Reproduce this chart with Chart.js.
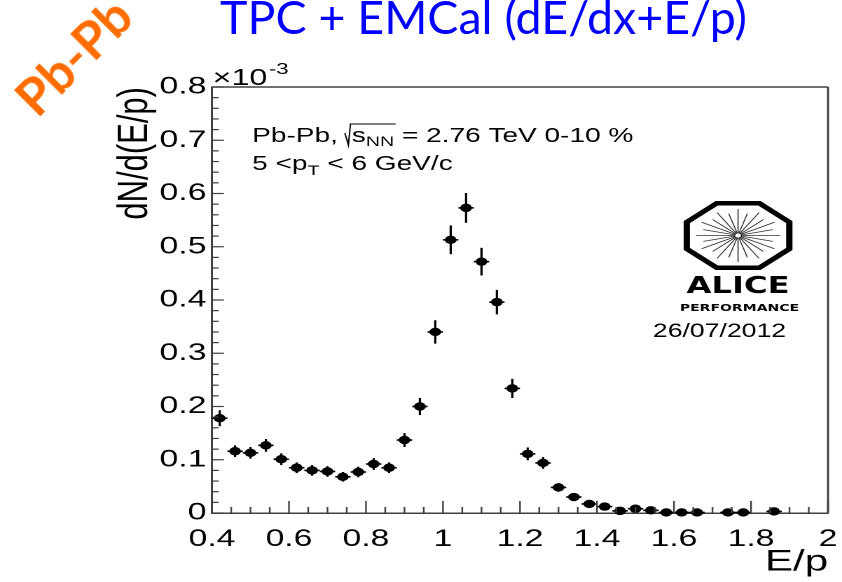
<!DOCTYPE html>
<html>
<head>
<meta charset="utf-8">
<script src="https://cdn.jsdelivr.net/npm/chart.js@4.4.1/dist/chart.umd.min.js"></script>
<style>
  body { margin: 0; background: #fff; }
  #wrap { position: relative; width: 842px; height: 582px; overflow: hidden; background: #fff; }
  #plot { position: absolute; left: 0; top: 0; }
  #slideTitle {
    position: absolute; left: 220px; top: -6px; white-space: nowrap;
    font-family: Lato, "Open Sans", sans-serif; font-size: 46px; line-height: 1;
    color: #0000ff; transform-origin: 0 0;
  }
  #system {
    position: absolute; left: 73px; top: 56px; white-space: nowrap;
    font-family: Lato, "Open Sans", sans-serif; font-weight: bold; font-size: 51px; line-height: 1;
    color: #ff6c00; transform: translate(-50%, -50%) rotate(-45deg);
  }
</style>
</head>
<body>
<div id="wrap">
  <!-- the ROOT picture in the slide is stretched sideways, so the canvas is drawn narrow and widened by CSS -->
  <canvas id="plot" width="601" height="582" style="width:842px;height:582px"></canvas>
  <div id="slideTitle">TPC + EMCal (dE/dx+E/p)</div>
  <div id="system">Pb-Pb</div>
</div>
<script>
// --- data (y in units of 1e-3) ---
const epCenters = [0.42, 0.46, 0.50, 0.54, 0.58, 0.62, 0.66, 0.70, 0.74, 0.78, 0.82, 0.86,
                   0.90, 0.94, 0.98, 1.02, 1.06, 1.10, 1.14, 1.18, 1.22, 1.26, 1.30, 1.34,
                   1.38, 1.42, 1.46, 1.50, 1.54, 1.58, 1.62, 1.66, 1.74, 1.78, 1.86];
const dNdEp = [0.178, 0.116, 0.113, 0.127, 0.101, 0.085, 0.080, 0.078, 0.068, 0.077, 0.092, 0.085,
               0.137, 0.200, 0.340, 0.513, 0.573, 0.472, 0.396, 0.234, 0.111, 0.094, 0.048, 0.030,
               0.017, 0.012, 0.004, 0.008, 0.005, 0.001, 0.001, 0.001, 0.001, 0.001, 0.003];
const dNdEpErr = [0.015, 0.011, 0.011, 0.012, 0.011, 0.010, 0.010, 0.010, 0.009, 0.010, 0.011, 0.010,
                  0.013, 0.016, 0.022, 0.027, 0.028, 0.026, 0.023, 0.018, 0.012, 0.011, 0.008, 0.006,
                  0.005, 0.004, 0.002, 0.003, 0.002, 0.001, 0.001, 0.001, 0.001, 0.001, 0.002];
const binHalfWidth = 0.02;

const xTicks = [0.4, 0.6, 0.8, 1.0, 1.2, 1.4, 1.6, 1.8, 2.0];
const yTicks = [0, 0.1, 0.2, 0.3, 0.4, 0.5, 0.6, 0.7, 0.8];

Chart.defaults.font.family = '"Liberation Sans", Arial, sans-serif';
Chart.defaults.color = '#000';

const fmt = v => String(+Number(v).toFixed(2));
const frameColor = '#404040';

function line(ctx, x1, y1, x2, y2) {
    ctx.beginPath();
    ctx.moveTo(x1, y1);
    ctx.lineTo(x2, y2);
    ctx.stroke();
}

// error bars (vertical = stat. error, horizontal = bin width)
const errorBars = {
    id: 'errorBars',
    beforeDatasetsDraw(chart) {
        const ctx = chart.ctx, xs = chart.scales.x, ys = chart.scales.y;
        ctx.save();
        ctx.strokeStyle = '#000';
        ctx.lineWidth = 1.6;
        epCenters.forEach((c, i) => {
            const px = xs.getPixelForValue(c);
            const py = ys.getPixelForValue(dNdEp[i]);
            line(ctx, px, ys.getPixelForValue(dNdEp[i] + dNdEpErr[i]),
                      px, ys.getPixelForValue(Math.max(0, dNdEp[i] - dNdEpErr[i])));
            line(ctx, xs.getPixelForValue(c - binHalfWidth), py, xs.getPixelForValue(c + binHalfWidth), py);
        });
        ctx.restore();
    }
};

// ROOT style frame with inward ticks, plus the texts and logo inside the pad
const rootPad = {
    id: 'rootPad',
    afterDraw(chart) {
        const ctx = chart.ctx, xs = chart.scales.x, ys = chart.scales.y, ca = chart.chartArea;
        ctx.save();
        ctx.strokeStyle = frameColor;
        ctx.lineWidth = 1.5;
        line(ctx, ca.left, ca.top, ca.right, ca.top);
        line(ctx, ca.right, ca.top, ca.right, ca.bottom);

        // ticks
        ctx.lineWidth = 1.2;
        for (let k = 0; k <= 32; k++) {
            const v = 0.4 + k * 0.05;
            const px = xs.getPixelForValue(v);
            line(ctx, px, ca.bottom, px, ca.bottom - (k % 4 === 0 ? 12 : 6));
        }
        for (let k = 0; k <= 40; k++) {
            const v = k * 0.02;
            const py = ys.getPixelForValue(v);
            line(ctx, ca.left, py, ca.left + (k % 5 === 0 ? 8.5 : 4.8), py);
        }

        // x10^-3 exponent
        ctx.fillStyle = '#000';
        ctx.textBaseline = 'alphabetic';
        ctx.font = '23px "Liberation Sans"';
        ctx.fillText('\u00d710', ca.left + 0.5, 85);
        const wExp = ctx.measureText('\u00d710').width;
        ctx.font = '16px "Liberation Sans"';
        ctx.fillText('-3', ca.left + 0.5 + wExp + 1, 74);

        drawLabel(ctx);
        drawAliceLogo(ctx, 526.8, 235.5);
        ctx.restore();
    }
};

function drawLabel(ctx) {
    const big = '20px "Liberation Sans"', small = '14px "Liberation Sans"';
    let x = 180, y = 142;
    ctx.font = big;
    ctx.fillText('Pb-Pb,', x, y);
    x += ctx.measureText('Pb-Pb,').width + 8;
    // square root sign over s_NN
    const sw = ctx.measureText('s').width;
    ctx.font = small;
    const nw = ctx.measureText('NN').width;
    ctx.lineWidth = 1;
    ctx.strokeStyle = '#000';
    ctx.beginPath();
    ctx.moveTo(x - 3, y - 9);
    ctx.lineTo(x - 0.5, y + 3);
    ctx.lineTo(x + 1, y - 18);
    ctx.lineTo(x + 3 + sw + nw, y - 18);
    ctx.stroke();
    x += 2;
    ctx.font = big;
    ctx.fillText('s', x, y);
    x += sw;
    ctx.font = small;
    ctx.fillText('NN', x, y + 4);
    x += nw;
    ctx.font = big;
    ctx.fillText(' = 2.76 TeV 0-10 %', x, y);

    x = 180; y = 170;
    ctx.fillText('5 <p', x, y);
    x += ctx.measureText('5 <p').width;
    ctx.font = small;
    ctx.fillText('T', x, y + 5);
    x += ctx.measureText('T').width;
    ctx.font = big;
    ctx.fillText(' < 6 GeV/c', x, y);
}

function drawAliceLogo(ctx, cx, cy) {
    const rx = 36.6, ry = 32.3, c8 = Math.cos(Math.PI / 8);
    ctx.save();
    ctx.strokeStyle = '#000';
    ctx.lineWidth = 4.5;
    ctx.lineJoin = 'miter';
    ctx.beginPath();
    for (let k = 0; k < 8; k++) {
        const a = Math.PI / 8 + k * Math.PI / 4;
        ctx.lineTo(cx + rx * Math.cos(a) / c8, cy + ry * Math.sin(a) / c8);
    }
    ctx.closePath();
    ctx.stroke();

    ctx.lineWidth = 0.8;
    ctx.strokeStyle = '#333';
    for (let k = 0; k < 24; k++) {
        const a = k * Math.PI / 12;
        const r = (k % 2 === 0) ? 0.82 : 0.7;
        line(ctx, cx + 2 * Math.cos(a), cy + 2 * Math.sin(a),
                  cx + rx * r * Math.cos(a), cy + ry * r * Math.sin(a));
    }

    ctx.fillStyle = '#000';
    ctx.textAlign = 'center';
    ctx.font = 'bold 23px "DejaVu Sans"';
    ctx.fillText('ALICE', cx, 293);
    ctx.font = 'bold 10px "DejaVu Sans"';
    ctx.fillText('PERFORMANCE', cx + 1, 311);
    ctx.textAlign = 'left';
    ctx.font = '19px "Liberation Sans"';
    ctx.fillText('26/07/2012', 466, 337);
    ctx.restore();
}

const chart = new Chart(document.getElementById('plot'), {
    type: 'scatter',
    data: {
        datasets: [{
            data: epCenters.map((x, i) => ({ x: x, y: dNdEp[i] })),
            pointRadius: 4.2,
            pointBackgroundColor: '#000',
            pointBorderWidth: 0,
            clip: false
        }]
    },
    options: {
        responsive: false,
        animation: false,
        devicePixelRatio: 2,
        layout: { padding: { top: 87, right: 10, left: 0, bottom: 0 } },
        plugins: { legend: { display: false }, tooltip: { enabled: false } },
        scales: {
            x: {
                type: 'linear', min: 0.4, max: 2,
                afterBuildTicks: s => { s.ticks = xTicks.map(v => ({ value: v })); },
                afterFit: s => { s.height = 69; s.paddingLeft = 0; s.paddingRight = 0; },
                grid: { display: false, drawTicks: false },
                border: { display: true, color: frameColor, width: 1.5 },
                ticks: { padding: 12, maxRotation: 0, autoSkip: false, font: { size: 24 }, callback: v => fmt(v) },
                title: { display: true, text: 'E/p', align: 'end', font: { size: 30 }, padding: { top: 0, bottom: 2 } }
            },
            y: {
                type: 'linear', min: 0, max: 0.8,
                afterBuildTicks: s => { s.ticks = yTicks.map(v => ({ value: v })); },
                afterFit: s => { s.width = 151.3; },
                grid: { display: false, drawTicks: false },
                border: { display: true, color: frameColor, width: 1.5 },
                ticks: { padding: 4, autoSkip: false, font: { size: 24 }, callback: v => fmt(v) },
                title: { display: true, text: 'dN/d(E/p)', align: 'end', font: { size: 31 }, padding: { top: 78, bottom: 0 } }
            }
        }
    },
    plugins: [errorBars, rootPad]
});

// fit the slide title to its width in the slide
const titleEl = document.getElementById('slideTitle');
titleEl.style.transform = 'scaleX(' + (527 / titleEl.getBoundingClientRect().width) + ')';
</script>
</body>
</html>
